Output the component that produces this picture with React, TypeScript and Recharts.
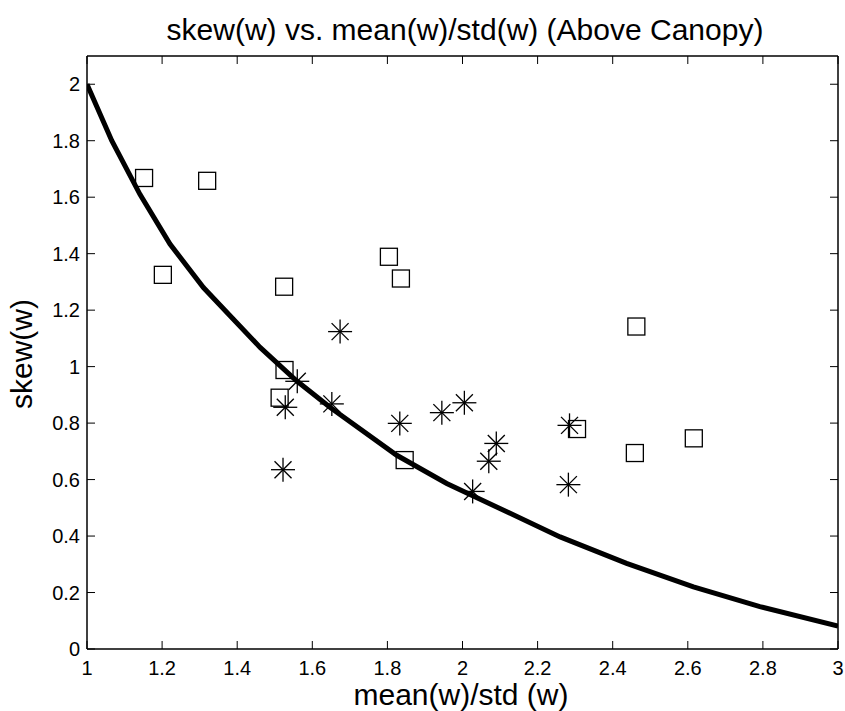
import { ComposedChart, Scatter, Line, XAxis, YAxis } from 'recharts';

const xTicks = [1, 1.2, 1.4, 1.6, 1.8, 2, 2.2, 2.4, 2.6, 2.8, 3];
const yTicks = [0, 0.2, 0.4, 0.6, 0.8, 1, 1.2, 1.4, 1.6, 1.8, 2];

// squares
const squareX = [1.152, 1.320, 1.202, 1.525, 1.804, 1.836, 1.526, 1.513, 1.846, 2.463, 2.305, 2.459, 2.616];
const squareY = [1.668, 1.658, 1.325, 1.283, 1.389, 1.312, 0.988, 0.890, 0.669, 1.142, 0.779, 0.694, 0.746];

// asterisks
const starX = [1.674, 1.560, 1.528, 1.652, 1.522, 1.833, 1.945, 2.005, 2.090, 2.070, 2.027, 2.285, 2.282];
const starY = [1.124, 0.948, 0.856, 0.868, 0.635, 0.799, 0.837, 0.872, 0.728, 0.665, 0.558, 0.792, 0.582];

// thick reference curve
const curveX = [1.0, 1.066, 1.141, 1.221, 1.31, 1.381, 1.461, 1.558, 1.647, 1.825, 1.958, 2.091, 2.26, 2.437, 2.615, 2.792, 3.0];
const curveY = [2.0, 1.8, 1.61, 1.434, 1.28, 1.18, 1.068, 0.95, 0.856, 0.686, 0.586, 0.503, 0.397, 0.303, 0.22, 0.15, 0.081];

const squares = squareX.map((x, i) => ({ x, y: squareY[i] }));
const stars = starX.map((x, i) => ({ x, y: starY[i] }));
const curve = curveX.map((x, i) => ({ x, y: curveY[i] }));

const font = '"Liberation Sans", Arial, Helvetica, sans-serif';
const TL = 8;

const fmt = (v: number) => String(Math.round(v * 10) / 10);

const BottomTick = (p: any) => (
  <g>
    <line x1={p.x} x2={p.x} y1={p.y} y2={p.y - TL} stroke="#000" strokeWidth={1} />
    <text x={p.x} y={p.y + 26} textAnchor="middle" fontSize={20} fontFamily={font} fill="#000">
      {fmt(p.payload.value)}
    </text>
  </g>
);

const TopTick = (p: any) => (
  <line x1={p.x} x2={p.x} y1={p.y} y2={p.y + TL} stroke="#000" strokeWidth={1} />
);

const LeftTick = (p: any) => (
  <g>
    <line x1={p.x} x2={p.x + TL} y1={p.y} y2={p.y} stroke="#000" strokeWidth={1} />
    <text x={p.x - 7} y={p.y + 7} textAnchor="end" fontSize={20} fontFamily={font} fill="#000">
      {fmt(p.payload.value)}
    </text>
  </g>
);

const RightTick = (p: any) => (
  <line x1={p.x} x2={p.x - TL} y1={p.y} y2={p.y} stroke="#000" strokeWidth={1} />
);

const Square = (p: any) => (
  <rect x={p.cx - 8.5} y={p.cy - 8.5} width={17} height={17} fill="none" stroke="#000" strokeWidth={1.3} />
);

const Star = (p: any) => {
  const r = 12;
  const d = 8.5;
  return (
    <g stroke="#000" strokeWidth={1.3}>
      <line x1={p.cx - r} x2={p.cx + r} y1={p.cy} y2={p.cy} />
      <line x1={p.cx} x2={p.cx} y1={p.cy - r} y2={p.cy + r} />
      <line x1={p.cx - d} x2={p.cx + d} y1={p.cy - d} y2={p.cy + d} />
      <line x1={p.cx - d} x2={p.cx + d} y1={p.cy + d} y2={p.cy - d} />
    </g>
  );
};

const label = (extra: any) => ({
  position: 'absolute' as const,
  fontFamily: font,
  fontSize: 30,
  lineHeight: '24px',
  whiteSpace: 'nowrap' as const,
  color: '#000',
  ...extra,
});

export default function App() {
  return (
    <div style={{ position: 'absolute', left: 0, top: 0, width: 845, height: 711, background: '#fff' }}>
      <ComposedChart width={845} height={711} margin={{ top: 48, right: 6, bottom: 0, left: 0 }}>
        <XAxis xAxisId="b" dataKey="x" type="number" domain={[1, 3]} ticks={xTicks} height={62}
          allowDataOverflow tickLine={false} tickSize={0} tickMargin={0} tick={BottomTick}
          axisLine={{ stroke: '#000', strokeWidth: 1.5 }} />
        <XAxis xAxisId="t" orientation="top" dataKey="x" type="number" domain={[1, 3]} ticks={xTicks} height={8}
          allowDataOverflow tickLine={false} tickSize={0} tickMargin={0} tick={TopTick}
          axisLine={{ stroke: '#000', strokeWidth: 1.5 }} />
        <YAxis yAxisId="l" dataKey="y" type="number" domain={[0, 2.1]} ticks={yTicks} width={87}
          allowDataOverflow tickLine={false} tickSize={0} tickMargin={0} tick={LeftTick}
          axisLine={{ stroke: '#000', strokeWidth: 1.5 }} />
        <YAxis yAxisId="r" orientation="right" dataKey="y" type="number" domain={[0, 2.1]} ticks={yTicks} width={1}
          allowDataOverflow tickLine={false} tickSize={0} tickMargin={0} tick={RightTick}
          axisLine={{ stroke: '#000', strokeWidth: 1.5 }} />
        <Line xAxisId="b" yAxisId="l" data={curve} dataKey="y" type="linear" stroke="#000" strokeWidth={5}
          dot={false} activeDot={false} isAnimationActive={false} />
        <Scatter xAxisId="b" yAxisId="l" data={squares} dataKey="y" shape={Square} isAnimationActive={false} />
        <Scatter xAxisId="b" yAxisId="l" data={stars} dataKey="y" shape={Star} isAnimationActive={false} />
      </ComposedChart>
      <div style={label({ left: 465, top: 18, transform: 'translateX(-50%)' })}>
        skew(w) vs. mean(w)/std(w) (Above Canopy)
      </div>
      <div style={label({ left: 461, top: 683, transform: 'translateX(-50%)' })}>
        mean(w)/std (w)
      </div>
      <div style={label({ left: 22, top: 354, transform: 'translate(-50%, -50%) rotate(-90deg)' })}>
        skew(w)
      </div>
    </div>
  );
}
